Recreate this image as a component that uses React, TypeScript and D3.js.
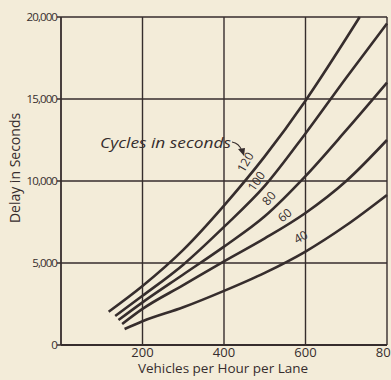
import React from "react";
import * as d3 from "d3";

const vehicles120 = [117, 200, 300, 400, 500, 600, 700, 733];
const delay120 = [2030, 3600, 5800, 8500, 11500, 14900, 18700, 20000];
const vehicles100 = [133, 200, 300, 400, 500, 600, 700, 800];
const delay100 = [1770, 3000, 4900, 7200, 9700, 12900, 16300, 19600];
const vehicles80 = [141, 200, 300, 400, 500, 600, 700, 800];
const delay80 = [1520, 2600, 4300, 6000, 7850, 10300, 13100, 16000];
const vehicles60 = [150, 200, 300, 400, 500, 600, 700, 800];
const delay60 = [1280, 2200, 3650, 5100, 6500, 8050, 10000, 12500];
const vehicles40 = [156, 200, 300, 400, 500, 600, 700, 800];
const delay40 = [975, 1450, 2300, 3300, 4400, 5700, 7300, 9150];

const cycles = ["120", "100", "80", "60", "40"];
// where each cycle label sits (vehicles, delay) and its slant
const labelVehicles = [452, 479, 510, 549, 588];
const labelDelay = [11160, 10000, 8960, 7930, 6600];
const labelAngle = [-60, -55, -50, -40, -30];

const xTicks = [200, 400, 600, 800];
const yTicks = [0, 5000, 10000, 15000, 20000];
const yTickLabels = ["0", "5,000", "10,000", "15,000", "20,000"];

const series = [
  { name: cycles[0], xs: vehicles120, ys: delay120 },
  { name: cycles[1], xs: vehicles100, ys: delay100 },
  { name: cycles[2], xs: vehicles80, ys: delay80 },
  { name: cycles[3], xs: vehicles60, ys: delay60 },
  { name: cycles[4], xs: vehicles40, ys: delay40 },
];

const width = 391;
const height = 380;
const margin = { left: 61, right: 4, top: 17, bottom: 35 };
const ink = "#362d2d";
const paper = "#f3ecd9";
const font = "'Open Sans', 'DejaVu Sans', sans-serif";

export default function App() {
  const x = d3.scaleLinear().domain([0, 800]).range([margin.left, width - margin.right]);
  const y = d3.scaleLinear().domain([0, 20000]).range([height - margin.bottom, margin.top]);

  const line = d3
    .line<[number, number]>()
    .x((d) => x(d[0]))
    .y((d) => y(d[1]))
    .curve(d3.curveMonotoneX);

  return (
    <svg
      width={width}
      height={height}
      style={{ position: "absolute", left: 0, top: 0, background: paper }}
      fontFamily={font}
    >
      <rect x={0} y={0} width={width} height={height} fill={paper} />
      {/* grid */}
      {xTicks.map((t) => (
        <line key={"gx" + t} x1={x(t)} x2={x(t)} y1={y(0)} y2={y(20000)} stroke={ink} strokeWidth={1.4} />
      ))}
      {yTicks.map((t) => (
        <line key={"gy" + t} x1={x(0) - 4} x2={x(800)} y1={y(t)} y2={y(t)} stroke={ink} strokeWidth={1.4} />
      ))}
      <line x1={x(0)} x2={x(0)} y1={y(0)} y2={y(20000)} stroke={ink} strokeWidth={1.8} />
      <line x1={x(0)} x2={x(800)} y1={y(0)} y2={y(0)} stroke={ink} strokeWidth={1.8} />

      {/* y tick labels */}
      {yTicks.map((t, i) => (
        <text
          key={"yl" + t}
          x={x(0) - 4}
          y={y(t) + 4}
          textAnchor="end"
          fontSize={11.5}
          letterSpacing={-0.9}
          fill={ink}
        >
          {yTickLabels[i]}
        </text>
      ))}
      {/* x tick labels */}
      {xTicks.map((t) => (
        <text key={"xl" + t} x={x(t)} y={y(0) + 12} textAnchor="middle" fontSize={13} fill={ink}>
          {t}
        </text>
      ))}
      <text x={223} y={y(0) + 28} textAnchor="middle" fontSize={13.5} fill={ink}>
        Vehicles per Hour per Lane
      </text>
      <text
        transform={`translate(20,168) rotate(-90)`}
        textAnchor="middle"
        fontSize={14}
        fill={ink}
      >
        Delay in Seconds
      </text>

      {/* curves */}
      {series.map((s) => (
        <path
          key={s.name}
          d={line(s.xs.map((v, i) => [v, s.ys[i]] as [number, number])) || ""}
          fill="none"
          stroke={ink}
          strokeWidth={2.6}
        />
      ))}

      {/* curve labels */}
      {cycles.map((c, i) => (
        <text
          key={"lab" + c}
          transform={`translate(${x(labelVehicles[i])},${y(labelDelay[i])}) rotate(${labelAngle[i]})`}
          textAnchor="middle"
          dominantBaseline="central"
          fontSize={12}
          fill={ink}
        >
          {c}
        </text>
      ))}

      <text
        x={100}
        y={148}
        fontSize={14}
        fontStyle="italic"
        fill={ink}
        textLength={131}
        lengthAdjust="spacingAndGlyphs"
      >
        Cycles in seconds
      </text>
      <path d="M232,142 Q239,143 242,151" fill="none" stroke={ink} strokeWidth={1.1} />
      <path d="M238,149 L244,156 L245,148 Z" fill={ink} />
    </svg>
  );
}
